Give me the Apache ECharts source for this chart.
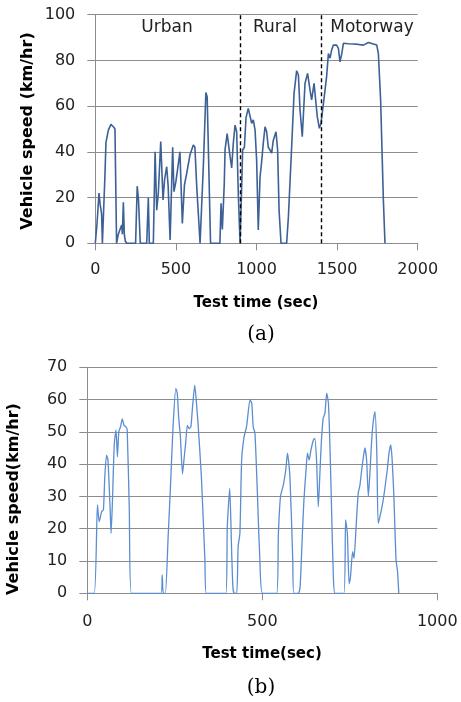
<!DOCTYPE html>
<html>
<head>
<meta charset="utf-8">
<script src="https://cdn.jsdelivr.net/npm/echarts@6/dist/echarts.min.js"></script>
<style>
html,body{margin:0;padding:0;background:#fff;}
#c{width:461px;height:702px;}
</style>
</head>
<body>
<div id="c"></div>
<script>
// (a) real-world drive: time (s) and speed (km/h)
var topTime = [0,10,23,30,39,44,54,60,66,81,97,112,122,132,138,143,153,164,168,174,180,186,195,250,260,268,279,319,329,335,360,371,381,391,406,420,430,443,452,464,480,488,500,525,540,553,567,587,597,608,618,629,639,650,660,670,686,694,715,773,780,788,800,805,818,825,836,846,856,867,877,887,898,904,914,925,935,949,960,970,980,991,1001,1011,1022,1032,1042,1053,1063,1073,1084,1094,1104,1121,1131,1140,1152,1187,1198,1218,1233,1249,1260,1270,1284,1301,1317,1332,1342,1357,1367,1377,1390,1400,1415,1435,1446,1456,1466,1477,1497,1508,1518,1529,1539,1570,1601,1632,1663,1694,1725,1746,1756,1770,1787,1797];
var topSpeed = [0,8,22,17,13,0,0,30,44,49.5,52,51,50,0,0,4,6,8,4,18,4,1,0,0,25,19,0,0,20,0,0,40,14.5,22,44.5,19,28,33.5,25,1.5,42,22.6,27,40,8.7,25.5,30.6,38.6,39,43,42,25,25.5,0,0,33.5,66,64,0,0,17.5,6,26,41,48,47.4,38,33,43.7,51.7,48.8,22,0,14.6,40.8,42,55,59,59,52.5,54,49.6,36,5.8,29,35.7,43.7,51,48.8,42,40.8,39.4,45,48.8,40.8,14.6,0,0,11.7,42,65.6,75.5,73.6,58.3,46.6,70,74.3,67,62.7,70,62.7,55.4,50.3,52.5,61,73,83,81,84.5,86.7,86.7,85.3,79.4,83,87.5,87.3,87.2,87,86.7,87.8,87.2,86.7,83,62.7,19,0];
var zoneBounds = [900, 1400];
var zoneNames = ['Urban', 'Rural', 'Motorway'];

// (b) test cycle: time (s) and speed (km/h)
var botTime = [0,20,29,34,41,46,50,55,59,65,68,72,77,82,86,90,95,100,105,110,114,120,126,211,214,217,223,231,238,245,253,257,261,266,272,277,281,286,291,296,300,307,312,317,326,336,340,396,400,407,412,416,420,427,431,436,441,448,455,465,470,474,479,486,493,501,541,546,552,560,567,572,579,587,590,603,608,614,619,625,629,634,639,646,650,655,660,665,669,674,679,684,689,693,698,703,708,733,738,743,748,752,758,762,768,774,779,784,789,793,798,803,808,812,817,822,827,831,836,843,847,852,857,862,867,871,876,882,886,890];
var botSpeed = [0,0,27.4,22.2,25.3,25.8,36,42.8,41.3,26.8,18.6,29,46,50.6,42.3,50,51.6,54,52,51.6,50.6,25.8,0,0,5.7,0,0,17.6,34,51.6,63.5,62,54.7,48.5,37,42.3,46.5,52,51,51.6,56.8,64.5,58.8,51.6,36,10.3,0,0,20.6,32.5,14.5,2,0,0,14.5,18.6,41.3,48.5,51.6,59.9,58.8,51.6,49.6,31,10.3,0,0,18.6,30,33.5,38.2,43.4,36,10.3,0,0,2,17,29,38.2,43.4,41.3,44.4,47.5,48,41.3,26.8,38.2,47.5,54.2,55.8,62,58.8,46.5,25.8,5.2,0,0,22.7,18.6,3,5.2,12.9,10.8,20.6,31,33.5,38.2,42.3,45,41.3,30,38.2,46.5,53.2,56.3,44.4,21.7,23.7,27.4,30,34,38.2,43.4,46,41.3,30,10.3,7.2,0];

function pairs(t, v){ var out=[]; for (var i=0;i<t.length;i++) out.push([t[i], v[i]]); return out; }

var gridCol = '#8c8c8c';
var lblFont = {fontFamily:'DejaVu Sans', fontSize:16, color:'#222'};
function plain(v){ return String(v); }

function xAx(idx, max, margin){
  return {type:'value', gridIndex:idx, min:0, max:max, interval:500,
    axisLine:{show:true, onZero:false, lineStyle:{color:gridCol, width:1}},
    axisTick:{show:true, inside:false, length:7, lineStyle:{color:gridCol}},
    splitLine:{show:false},
    axisLabel:Object.assign({margin:margin, formatter:plain}, lblFont)};
}
function yAx(idx, max, interval){
  return {type:'value', gridIndex:idx, min:0, max:max, interval:interval,
    axisLine:{show:true, lineStyle:{color:gridCol, width:1}},
    axisTick:{show:true, inside:false, length:8, lineStyle:{color:gridCol}},
    splitLine:{show:true, lineStyle:{color:gridCol, width:1}},
    axisLabel:Object.assign({margin:20, formatter:plain}, lblFont)};
}

var xTitleFont = 'bold 15px "DejaVu Sans"';
var yTitleFont = 'bold 16px "DejaVu Sans"';
var zoneFont = '17px "DejaVu Sans"';
var chart = echarts.init(document.getElementById('c'));
chart.setOption({
  animation:false,
  backgroundColor:'#fff',
  grid:[
    {left:95.3, top:14.7, width:322.4, height:228.6},
    {left:87.3, top:367.3, width:350, height:226}
  ],
  xAxis:[xAx(0, 2000, 19), xAx(1, 1000, 21)],
  yAxis:[yAx(0, 100, 20), yAx(1, 70, 10)],
  series:[
    {type:'line', xAxisIndex:0, yAxisIndex:0, data:pairs(topTime, topSpeed),
      showSymbol:false, symbol:'none', lineStyle:{color:'#3d6196', width:1.6},
      markLine:{silent:true, symbol:'none', label:{show:false},
        lineStyle:{color:'#000', type:[4,3], width:1.4},
        data:zoneBounds.map(function(b){return {xAxis:b};})}},
    {type:'line', xAxisIndex:1, yAxisIndex:1, data:pairs(botTime, botSpeed),
      showSymbol:false, symbol:'none', smooth:0.2,
      lineStyle:{color:'#5a8dd2', width:1.3}}
  ],
  graphic:[
    {type:'text', x:167, y:28, style:{text:zoneNames[0], font:zoneFont, fill:'#222', align:'center', verticalAlign:'middle'}},
    {type:'text', x:275, y:28, style:{text:zoneNames[1], font:zoneFont, fill:'#222', align:'center', verticalAlign:'middle'}},
    {type:'text', x:372, y:28, style:{text:zoneNames[2], font:zoneFont, fill:'#222', align:'center', verticalAlign:'middle'}},
    {type:'text', x:27.5, y:131, rotation:Math.PI/2, style:{text:'Vehicle speed (km/hr)', font:yTitleFont, fill:'#000', align:'center', verticalAlign:'middle'}},
    {type:'text', x:256, y:303, style:{text:'Test time (sec)', font:xTitleFont, fill:'#000', align:'center', verticalAlign:'middle'}},
    {type:'text', x:261, y:335, style:{text:'(a)', font:'20px "DejaVu Serif"', fill:'#000', align:'center', verticalAlign:'middle'}},
    {type:'text', x:14, y:499, rotation:Math.PI/2, style:{text:'Vehicle speed(km/hr)', font:yTitleFont, fill:'#000', align:'center', verticalAlign:'middle'}},
    {type:'text', x:262, y:654, style:{text:'Test time(sec)', font:xTitleFont, fill:'#000', align:'center', verticalAlign:'middle'}},
    {type:'text', x:261, y:688, style:{text:'(b)', font:'20px "DejaVu Serif"', fill:'#000', align:'center', verticalAlign:'middle'}}
  ]
});
</script>
</body>
</html>
